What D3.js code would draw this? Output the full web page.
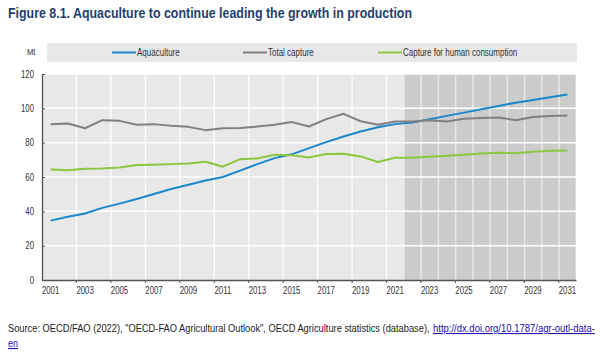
<!DOCTYPE html>
<html>
<head>
<meta charset="UTF-8">
<script src="https://d3js.org/d3.v7.min.js"></script>
<style>
  body { margin: 0; background: #fff; }
  svg { display: block; }
  text { font-family: "Liberation Sans", Arial, sans-serif; }
</style>
</head>
<body>
<svg id="chart" width="600" height="353"></svg>
<script>
const years = d3.range(2001, 2032);
const projectionStart = 2022;
const yTicks = [0, 20, 40, 60, 80, 100, 120];

const aquaculture = [34.6, 36.8, 38.7, 42.0, 44.5, 47.2, 50.1, 53.0, 55.5, 58.0, 60.0, 63.7, 67.5, 71.0, 73.2,
  76.8, 80.3, 83.6, 86.5, 89.0, 90.8, 91.7, 93.7, 95.6, 97.5, 99.5, 101.4, 103.3, 104.9, 106.4, 108.0];
const totalCapture = [90.8, 91.2, 88.4, 93.1, 92.7, 90.4, 90.8, 89.8, 89.2, 87.3, 88.4, 88.6, 89.4, 90.4, 92.0,
  89.4, 93.7, 96.8, 92.5, 90.4, 92.3, 92.3, 93.1, 92.3, 93.9, 94.4, 94.6, 93.1, 95.0, 95.6, 95.8];
const humanConsumption = [64.4, 63.9, 64.8, 65.0, 65.6, 67.0, 67.2, 67.5, 67.9, 68.9, 66.0, 70.4, 70.8, 73.0, 72.7,
  71.4, 73.4, 73.5, 72.0, 68.7, 71.2, 71.2, 71.8, 72.4, 73.0, 73.7, 74.1, 73.9, 74.7, 75.3, 75.5];

const seriesNames = ["Aquaculture", "Total capture", "Capture for human consumption"];
const seriesColors = ["#1a87cc", "#808080", "#8cc63e"];
const seriesData = [aquaculture, totalCapture, humanConsumption];

const svg = d3.select("#chart");
const m = { left: 42, right: 24, top: 74, bottom: 73 };
const W = 600, H = 353;

const x = d3.scaleBand().domain(years).range([m.left, W - m.right]).padding(0);
const y = d3.scaleLinear().domain([0, 120]).range([H - m.bottom, m.top]);

// squeeze a text horizontally (no narrow font installed)
function condense(sel, k) {
  sel.each(function () {
    const len = this.getComputedTextLength();
    d3.select(this).attr("textLength", len * k).attr("lengthAdjust", "spacingAndGlyphs");
  });
}

// squeeze a whole text element to a given width with a transform
function fitWidth(sel, px, py, w) {
  sel.each(function () {
    const len = this.getComputedTextLength();
    d3.select(this).attr("transform", `translate(${px},${py}) scale(${w / len},1)`);
  });
}

// title
svg.append("text")
  .attr("x", 8).attr("y", 18)
  .attr("fill", "#1f3f6e")
  .style("font-weight", "bold")
  .style("font-size", "14.8px")
  .attr("textLength", 404).attr("lengthAdjust", "spacingAndGlyphs")
  .text("Figure 8.1. Aquaculture to continue leading the growth in production");

// legend band
svg.append("rect")
  .attr("x", 47).attr("y", 43).attr("width", 530).attr("height", 19)
  .attr("fill", "#e8e8e8");
svg.append("text")
  .attr("x", 27).attr("y", 55)
  .style("font-size", "9px").attr("fill", "#333")
  .text("Mt").call(condense, 0.85);

const legendX = [112, 243, 378];
seriesNames.forEach((name, i) => {
  const g = svg.append("g").attr("transform", `translate(${legendX[i]},52.5)`);
  g.append("line").attr("x1", 0).attr("x2", 24).attr("stroke", seriesColors[i]).attr("stroke-width", 2);
  g.append("text").attr("x", 25).attr("y", 3.5)
    .style("font-size", "10px").attr("fill", "#333").text(name)
    .call(condense, 0.8);
});

// plot background
svg.append("rect")
  .attr("x", m.left).attr("y", y(120))
  .attr("width", W - m.right - m.left).attr("height", y(0) - y(120))
  .attr("fill", "#e8e8e8");

// projection shading, one cell per year
svg.append("g").selectAll("rect")
  .data(years.filter(d => d >= projectionStart))
  .join("rect")
  .attr("x", d => x(d) + 1)
  .attr("y", y(120))
  .attr("width", x.bandwidth() - 1.5)
  .attr("height", y(0) - y(120))
  .attr("fill", "#cbcbcb");

// vertical gridlines at odd years (historical part)
svg.append("g").selectAll("line")
  .data(years.filter(d => d % 2 === 1 && d > 2001 && d < projectionStart))
  .join("line")
  .attr("x1", d => x(d)).attr("x2", d => x(d))
  .attr("y1", y(120)).attr("y2", y(0))
  .attr("stroke", "#fff").attr("stroke-width", 1.2);

// horizontal gridlines
svg.append("g").selectAll("line")
  .data(yTicks.filter(d => d > 0))
  .join("line")
  .attr("x1", m.left).attr("x2", W - m.right)
  .attr("y1", d => y(d)).attr("y2", d => y(d))
  .attr("stroke", "#fff").attr("stroke-width", 1.5);

// lines
const line = d3.line()
  .x((d, i) => x(years[i]) + x.bandwidth() / 2)
  .y(d => y(d));

seriesData.forEach((s, i) => {
  svg.append("path")
    .datum(s)
    .attr("d", line)
    .attr("fill", "none")
    .attr("stroke", seriesColors[i])
    .attr("stroke-width", 2)
    .attr("stroke-linejoin", "round");
});

// y axis
const yAxis = svg.append("g")
  .attr("transform", `translate(${m.left},0)`)
  .call(d3.axisLeft(y).tickValues(yTicks).tickSize(0).tickPadding(8));
yAxis.select(".domain").attr("stroke", "#555").attr("stroke-width", 1.3);
yAxis.selectAll("text").style("font-size", "10px").attr("fill", "#333").call(condense, 0.78);
yAxis.selectAll(".tick").append("line").attr("x2", 3).attr("stroke", "#555");

// x axis
const xAxis = svg.append("g")
  .attr("transform", `translate(0,${y(0)})`)
  .call(d3.axisBottom(x).tickValues(years.filter(d => d % 2 === 1)).tickSize(0).tickPadding(7));
xAxis.select(".domain").attr("stroke", "#555").attr("stroke-width", 1.3);
xAxis.selectAll("text").style("font-size", "10px").attr("fill", "#333").call(condense, 0.78);
svg.append("g").selectAll("line")
  .data(years.filter(d => d % 2 === 1 && d > 2001))
  .join("line")
  .attr("x1", d => x(d)).attr("x2", d => x(d))
  .attr("y1", y(0)).attr("y2", y(0) + 3)
  .attr("stroke", "#555");

// source
svg.append("text")
  .style("font-size", "10.5px").attr("fill", "#222")
  .text("Source: OECD/FAO (2022), \"OECD-FAO Agricultural Outlook\", OECD Agriculture statistics (database),")
  .call(fitWidth, 8, 332, 422);
svg.append("text")
  .style("font-size", "10.5px").attr("fill", "#1a0dab").attr("text-decoration", "underline")
  .text("http://dx.doi.org/10.1787/agr-outl-data-")
  .call(fitWidth, 433, 332, 162);
svg.append("text")
  .style("font-size", "10.5px").attr("fill", "#1a0dab").attr("text-decoration", "underline")
  .text("en")
  .call(fitWidth, 8, 347, 10);
</script>
</body>
</html>
